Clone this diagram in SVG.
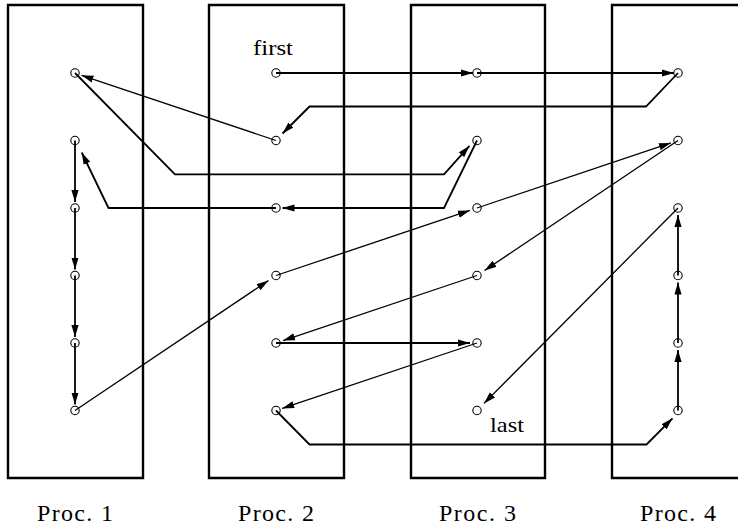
<svg xmlns="http://www.w3.org/2000/svg" width="738" height="529" viewBox="0 0 738 529">
<style>
.box{fill:none;stroke:#000;stroke-width:2.4}
.nd{fill:none;stroke:#000;stroke-width:1.1}
.thk{fill:none;stroke:#000;stroke-width:1.8;marker-end:url(#ah)}
.thn{fill:none;stroke:#000;stroke-width:1.3;marker-end:url(#ah)}
.lbl{font-family:"Liberation Serif","DejaVu Serif",serif;font-size:21px;fill:#000}
.proc{font-family:"Liberation Serif","DejaVu Serif",serif;font-size:24px;fill:#000}
</style>
<defs>
<marker id="ah" markerUnits="userSpaceOnUse" markerWidth="12" markerHeight="8" viewBox="0 0 10 6" refX="10" refY="3" orient="auto">
<path d="M0,0 L10,3 L0,6 Z" fill="#000"/>
</marker>
</defs>
<rect width="738" height="529" fill="#fff"/>
<g id="procs">
<path class="box" d="M8,5 H143 V478 H8 Z"/>
<path class="box" d="M209,5 H344 V478 H209 Z"/>
<path class="box" d="M411,5 H545 V478 H411 Z"/>
<path class="box" d="M740,5 H612 V478 H740"/>
</g>
<g id="connectors">
<path class="thk" d="M276,73 H473"/>
<path class="thk" d="M477,73 H674"/>
<path class="thk" d="M678,73 L646,106.5 H309.5 L282.5,133.5"/>
<path class="thn" d="M276,140.5 L81.5,75.3"/>
<path class="thk" d="M75,73 L175,174.3 H444 L469.5,145.8"/>
<path class="thk" d="M477,140.5 L444,208 H282.5"/>
<path class="thk" d="M276,208 H108.5 L81.7,152.5"/>
<path class="thk" d="M75,140.5 V202"/>
<path class="thk" d="M75,208 V269.5"/>
<path class="thk" d="M75,275.5 V337"/>
<path class="thk" d="M75,343 V404.5"/>
<path class="thn" d="M75,410.5 L268.5,280.5"/>
<path class="thn" d="M276,275.5 L469.9,210.4"/>
<path class="thn" d="M477,208 L670.9,142.9"/>
<path class="thn" d="M678,140.5 L484.5,270.5"/>
<path class="thn" d="M477,275.5 L283.1,340.6"/>
<path class="thk" d="M276,343 H470"/>
<path class="thn" d="M477,343 L282.2,408.4"/>
<path class="thk" d="M276,410.5 L309.5,444.5 H646.5 L672.5,418.3"/>
<path class="thk" d="M678,410.5 V350"/>
<path class="thk" d="M678,343 V282.5"/>
<path class="thk" d="M678,275.5 V215"/>
<path class="thn" d="M678,208 L484,403.4"/>
</g>
<g id="p1-nodes">
<circle class="nd" cx="75" cy="73" r="4.2"/>
<circle class="nd" cx="75" cy="140.5" r="4.2"/>
<circle class="nd" cx="75" cy="208" r="4.2"/>
<circle class="nd" cx="75" cy="275.5" r="4.2"/>
<circle class="nd" cx="75" cy="343" r="4.2"/>
<circle class="nd" cx="75" cy="410.5" r="4.2"/>
</g>
<g id="p2-nodes">
<circle class="nd" cx="276" cy="73" r="4.2"/>
<circle class="nd" cx="276" cy="140.5" r="4.2"/>
<circle class="nd" cx="276" cy="208" r="4.2"/>
<circle class="nd" cx="276" cy="275.5" r="4.2"/>
<circle class="nd" cx="276" cy="343" r="4.2"/>
<circle class="nd" cx="276" cy="410.5" r="4.2"/>
</g>
<g id="p3-nodes">
<circle class="nd" cx="477" cy="73" r="4.2"/>
<circle class="nd" cx="477" cy="140.5" r="4.2"/>
<circle class="nd" cx="477" cy="208" r="4.2"/>
<circle class="nd" cx="477" cy="275.5" r="4.2"/>
<circle class="nd" cx="477" cy="343" r="4.2"/>
<circle class="nd" cx="477" cy="410.5" r="4.2"/>
</g>
<g id="p4-nodes">
<circle class="nd" cx="678" cy="73" r="4.2"/>
<circle class="nd" cx="678" cy="140.5" r="4.2"/>
<circle class="nd" cx="678" cy="208" r="4.2"/>
<circle class="nd" cx="678" cy="275.5" r="4.2"/>
<circle class="nd" cx="678" cy="343" r="4.2"/>
<circle class="nd" cx="678" cy="410.5" r="4.2"/>
</g>
<g id="labels">
<text class="lbl" x="253" y="55" textLength="40" lengthAdjust="spacingAndGlyphs">first</text>
<text class="lbl" x="490" y="432" textLength="34" lengthAdjust="spacingAndGlyphs">last</text>
<text class="proc" x="37" y="521" textLength="76" lengthAdjust="spacing">Proc. 1</text>
<text class="proc" x="238" y="521" textLength="76" lengthAdjust="spacing">Proc. 2</text>
<text class="proc" x="439" y="521" textLength="77" lengthAdjust="spacing">Proc. 3</text>
<text class="proc" x="640" y="521" textLength="76" lengthAdjust="spacing">Proc. 4</text>
</g>
</svg>
